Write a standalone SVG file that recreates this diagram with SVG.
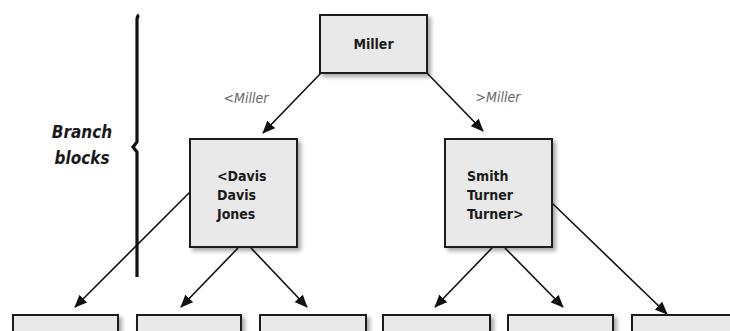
<svg xmlns="http://www.w3.org/2000/svg" width="730" height="331" viewBox="0 0 730 331">
  <defs>
    <filter id="shadow" x="-10%" y="-10%" width="130%" height="130%">
      <feGaussianBlur in="SourceAlpha" stdDeviation="2"/>
      <feOffset dx="3" dy="3" result="b"/>
      <feComponentTransfer><feFuncA type="linear" slope="0.35"/></feComponentTransfer>
      <feMerge><feMergeNode/><feMergeNode in="SourceGraphic"/></feMerge>
    </filter>
    <marker id="arrow" markerWidth="13" markerHeight="11" refX="12" refY="5.500" orient="auto" markerUnits="userSpaceOnUse">
      <path d="M0,0 L13,5.500 L0,11 Z" fill="#111"/>
    </marker>
    <style>
      .box { fill: #e9e9e9; stroke: #1a1a1a; stroke-width: 2; filter: url(#shadow); }
      .key { font-family: "DejaVu Sans Condensed", "DejaVu Sans", sans-serif; font-weight: bold; font-size: 14px; fill: #1a1a1a; }
      .edge { stroke: #111; stroke-width: 1.6; fill: none; marker-end: url(#arrow); }
      .elabel { font-family: "DejaVu Sans Condensed", "DejaVu Sans", sans-serif; font-style: italic; font-size: 14px; fill: #666; }
      .side { font-family: "DejaVu Sans Condensed", "DejaVu Sans", sans-serif; font-style: italic; font-weight: bold; font-size: 17px; fill: #1a1a1a; }
    </style>
  </defs>
  <rect width="730" height="331" fill="#fff"/>

  <!-- bracket marking the branch levels -->
  <g id="branch-bracket">
    <path d="M139,15 Q137,16 137,20 L137,142 L133,147 L137,152 L137,277" stroke="#111" stroke-width="3.2" fill="none"/>
    <text class="side" x="82" y="138" text-anchor="middle">Branch</text>
    <text class="side" x="82" y="164" text-anchor="middle">blocks</text>
  </g>

  <!-- connectors -->
  <g id="connectors">
    <line class="edge" x1="321" y1="73" x2="263" y2="133"/>
    <line class="edge" x1="427" y1="73" x2="483" y2="131"/>
    <line class="edge" x1="190" y1="192" x2="75" y2="307"/>
    <line class="edge" x1="238" y1="248" x2="181" y2="307"/>
    <line class="edge" x1="251" y1="248" x2="307" y2="307"/>
    <line class="edge" x1="492" y1="248" x2="435" y2="307"/>
    <line class="edge" x1="505" y1="248" x2="563" y2="307"/>
    <line class="edge" x1="552" y1="203" x2="667" y2="314"/>
    <text class="elabel" x="246" y="103" text-anchor="middle">&lt;Miller</text>
    <text class="elabel" x="498" y="102" text-anchor="middle">&gt;Miller</text>
  </g>

  <!-- root block -->
  <g id="root-miller">
    <rect class="box" x="320" y="15" width="107" height="58"/>
    <text class="key" x="373.500" y="49" text-anchor="middle">Miller</text>
  </g>

  <!-- branch blocks -->
  <g id="branch-left">
    <rect class="box" x="190" y="139" width="107" height="108"/>
    <text class="key" x="217" y="181">&lt;Davis</text>
    <text class="key" x="217" y="200">Davis</text>
    <text class="key" x="217" y="219">Jones</text>
  </g>
  <g id="branch-right">
    <rect class="box" x="445" y="139" width="107" height="108"/>
    <text class="key" x="467" y="181">Smith</text>
    <text class="key" x="467" y="200">Turner</text>
    <text class="key" x="467" y="219">Turner&gt;</text>
  </g>

  <!-- leaf blocks (cut off at the lower edge) -->
  <g id="leaf-1"><rect class="box" x="13" y="315" width="105" height="40"/></g>
  <g id="leaf-2"><rect class="box" x="137" y="315" width="104" height="40"/></g>
  <g id="leaf-3"><rect class="box" x="260" y="315" width="106" height="40"/></g>
  <g id="leaf-4"><rect class="box" x="383" y="315" width="107" height="40"/></g>
  <g id="leaf-5"><rect class="box" x="508" y="315" width="105" height="40"/></g>
  <g id="leaf-6"><rect class="box" x="632" y="315" width="105" height="40"/></g>
</svg>
